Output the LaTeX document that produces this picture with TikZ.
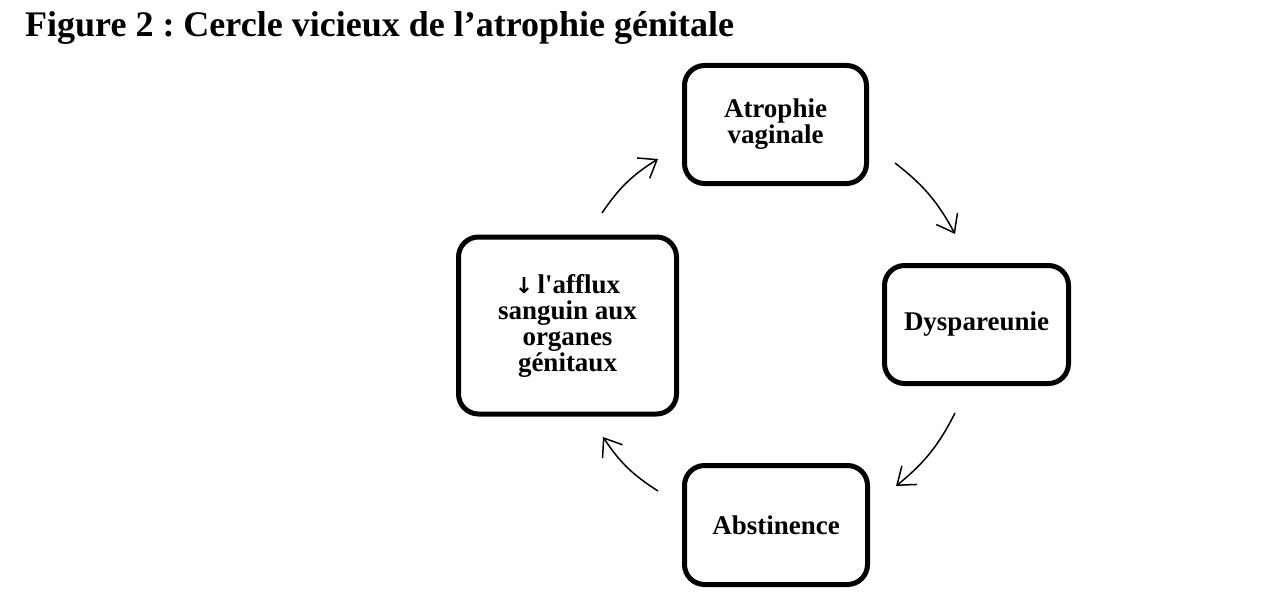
\documentclass[tikz,border=0pt]{standalone}
\usepackage{fontspec}
\setmainfont{Liberation Serif}
\usetikzlibrary{arrows.meta}
\frenchspacing
\tikzset{
  cyclebox/.style={draw=black, line width=5pt, rounded corners=20pt, fill=white,
    align=center, inner sep=0pt, font=\fontsize{27}{26}\selectfont\bfseries},
  cyclearrow/.style={line width=1.5pt, -{Straight Barb[length=16pt,width=24pt]}, bend left=12},
}
\begin{document}
\begin{tikzpicture}[x=1pt,y=1pt]
\useasboundingbox (0,0) rectangle (1266,-602);
% title
\node[anchor=base west, inner sep=0pt, font=\fontsize{36}{40}\selectfont\bfseries] (title) at (25,-37)
  {Figure 2 : Cercle vicieux de l’atrophie génitale};
% boxes
\node[cyclebox, minimum width=182pt, minimum height=118pt] (atro) at (775.5,-124.5) {Atrophie\\vaginale};
\node[cyclebox, minimum width=184pt, minimum height=118pt] (dysp) at (976.5,-324.5) {Dyspareunie};
\node[cyclebox, minimum width=183pt, minimum height=119pt] (abst) at (776,-525) {Abstinence};
\node[cyclebox, minimum width=218pt, minimum height=177pt] (aff) at (567.5,-325.5) {{\fontspec{DejaVu Sans}\fontsize{22}{26}\selectfont ↓}\,l\textquotesingle afflux\\sanguin aux\\organes\\génitaux};
% arrow ends
\coordinate (a1s) at (602,-213);
\coordinate (a1e) at (658,-159);
\coordinate (a2s) at (895,-163);
\coordinate (a2e) at (955,-234);
\coordinate (a3s) at (955,-413);
\coordinate (a3e) at (896,-486);
\coordinate (a4s) at (658,-491);
\coordinate (a4e) at (603,-437);
\draw[cyclearrow] (a1s) to (a1e);
\draw[cyclearrow] (a2s) to (a2e);
\draw[cyclearrow] (a3s) to (a3e);
\draw[cyclearrow] (a4s) to (a4e);
\end{tikzpicture}
\end{document}
